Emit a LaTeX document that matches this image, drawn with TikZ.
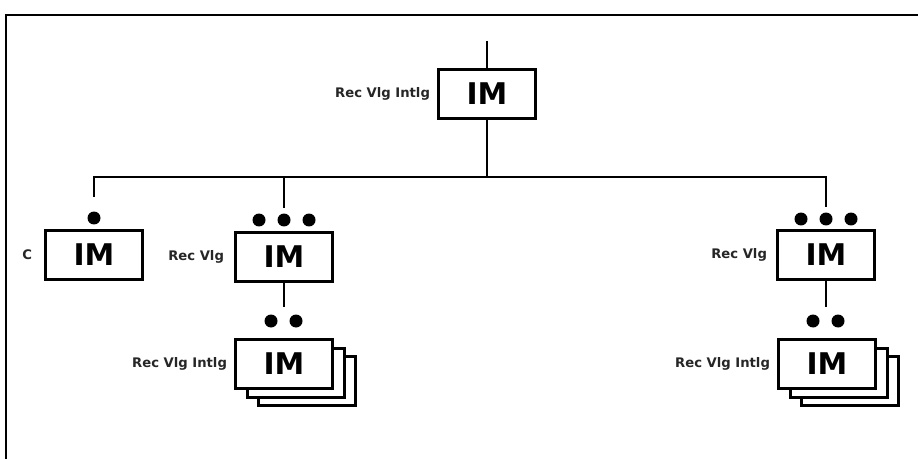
\documentclass[tikz,border=0pt]{standalone}
\usepackage{fontspec}
\newfontfamily\diafont{DejaVu Sans}
\usetikzlibrary{positioning}

\begin{document}
\begin{tikzpicture}[x=0.02cm, y=-0.02cm]

% ------------------- styles -------------------
\tikzstyle{imbox} = [draw, line width=1.4pt, rectangle, fill=white, minimum width=1.94cm, minimum height=0.98cm, inner sep=0, font=\diafont\bfseries\fontsize{17}{20}\selectfont]
\tikzstyle{lab} = [inner sep=0, font=\diafont\bfseries\fontsize{7.5}{9}\selectfont, text=black!85]
\tikzstyle{dot} = [circle, fill=black, inner sep=0, minimum size=0.26cm]
\tikzstyle{wire} = [line width=1pt]

\useasboundingbox (0,0) rectangle (918,459);

% ------------------- frame -------------------
\draw[line width=1.2pt] (6,459) -- (6,15) -- (918,15);

% ------------------- top -------------------
\coordinate (topIn) at (487,41);
\node[imbox] (top) at (487,94) {IM};
\node[lab, left=0.14cm of top] (topLab) {Rec Vlg Intlg};
\coordinate (bus) at (487,177);

% ------------------- left branch C -------------------
\node[dot] (dotC) at (94,218) {};
\node[imbox] (boxC) at (94,255) {IM};
\node[lab, left=0.24cm of boxC] (labC) {C};

% ------------------- middle branch -------------------
\node[dot] (dotL1) at (259,220) {};
\node[dot] (dotL2) at (284,220) {};
\node[dot] (dotL3) at (309,220) {};
\node[imbox] (boxL) at (284,257) {IM};
\node[lab, left=0.2cm of boxL] (labL) {Rec Vlg};

\node[dot] (dotLa) at (271,321) {};
\node[dot] (dotLb) at (296,321) {};
\coordinate (pairL) at (284,321);
\node[imbox] (stackL3) at (307,381) {};
\node[imbox] (stackL2) at (296,373) {};
\node[imbox] (stackL) at (284,364) {IM};
\node[lab, left=0.14cm of stackL] (labSL) {Rec Vlg Intlg};

% ------------------- right branch -------------------
\node[dot] (dotR1) at (801,219) {};
\node[dot] (dotR2) at (826,219) {};
\node[dot] (dotR3) at (851,219) {};
\node[imbox] (boxR) at (826,255) {IM};
\node[lab, left=0.18cm of boxR] (labR) {Rec Vlg};

\node[dot] (dotRa) at (813,321) {};
\node[dot] (dotRb) at (838,321) {};
\coordinate (pairR) at (826,321);
\node[imbox] (stackR3) at (850,381) {};
\node[imbox] (stackR2) at (839,373) {};
\node[imbox] (stackR) at (827,364) {IM};
\node[lab, left=0.14cm of stackR] (labSR) {Rec Vlg Intlg};

% ------------------- connectors -------------------
\draw[wire] (topIn) -- (top.north);
\draw[wire] (top.south) -- (bus);
\draw[wire, shorten >=8pt] (bus) -| (dotC.north);
\draw[wire, shorten >=3pt] (bus) -| (dotL2.north);
\draw[wire, shorten >=3pt] (bus) -| (dotR2.north);
\draw[wire, shorten >=8pt] (boxL.south) -- (pairL);
\draw[wire, shorten >=8pt] (boxR.south) -- (pairR);

\end{tikzpicture}
\end{document}
